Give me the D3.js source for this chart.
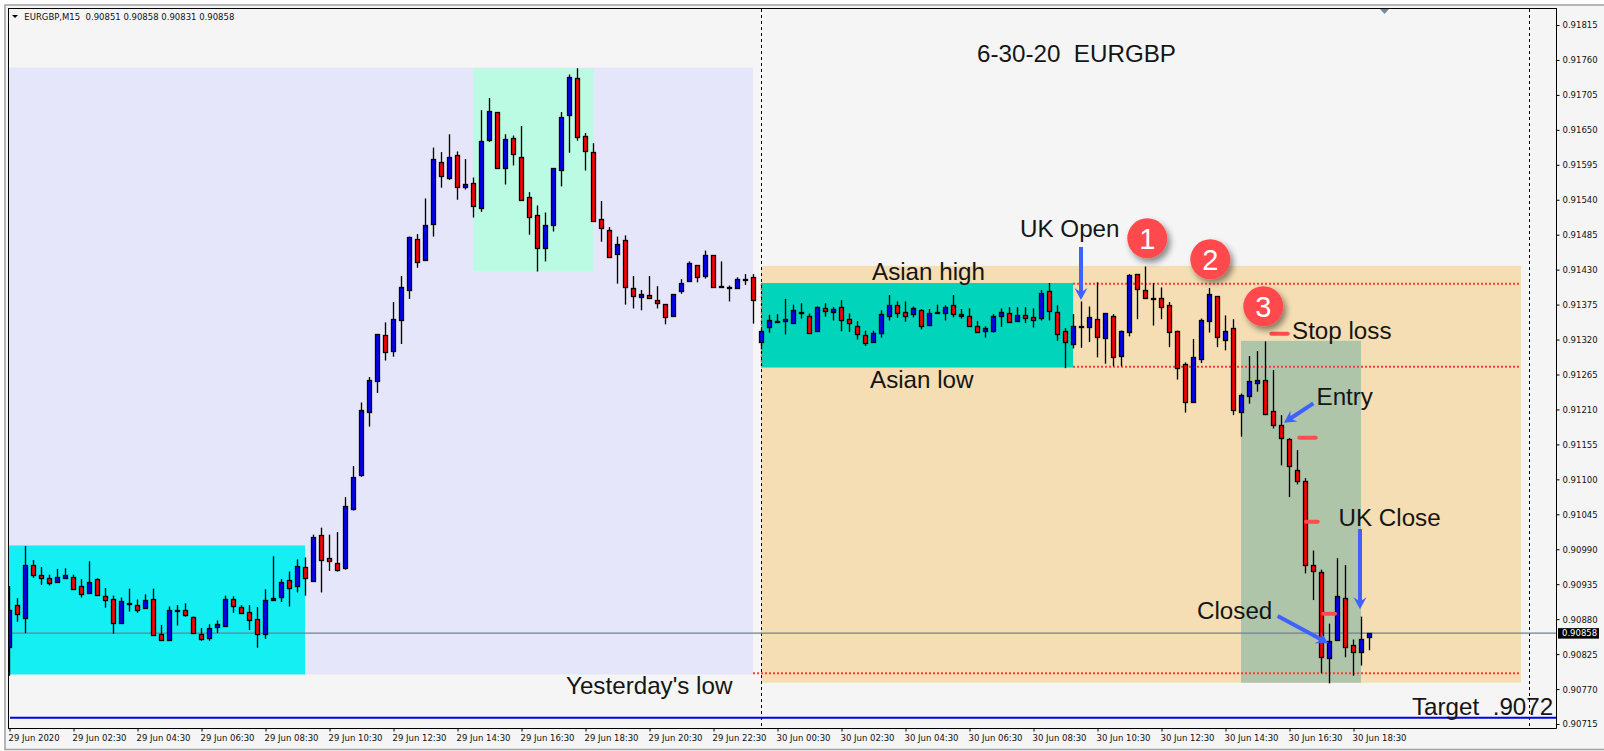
<!DOCTYPE html>
<html><head><meta charset="utf-8"><title>EURGBP M15</title>
<script src="https://cdn.jsdelivr.net/npm/d3@7/dist/d3.min.js"></script>
<style>html,body{margin:0;padding:0;background:#fff;overflow:hidden}svg{display:block}</style>
</head><body><div id="chart"></div>
<script>
// Prices in points (1 point = 0.00001)
const opens=[90837,90903,90881,90965,90950,90944,90939,90945,90947,90932,
90922,90943,90917,90911,90874,90906,90903,90898,90911,90856,
90848,90895,90894,90884,90856,90851,90868,90868,90911,90899,
90892,90881,90856,90911,90915,90941,90931,90962,90941,91012,
90976,90969,90960,91052,91106,91207,91254,91327,91303,91350,
91398,91479,91445,91501,91600,91575,91610,91560,91566,91527,
91634,91678,91590,91637,91608,91544,91516,91465,91501,91588,
91673,91731,91641,91615,91509,91493,91456,91476,91401,91387,
91390,91383,91376,91357,91396,91412,91437,91420,91453,91405,
91402,91402,91415,91418,91317,91339,91347,91350,91346,91363,
91357,91333,91369,91363,91372,91353,91342,91327,91317,91330,
91357,91375,91363,91360,91366,91342,91362,91361,91374,91357,
91357,91341,91334,91334,91358,91361,91349,91358,91355,91353,
91396,91363,91333,91313,91342,91339,91353,91322,91357,91294,
91331,91423,91398,91386,91385,91375,91334,91281,91221,91289,
91349,91388,91320,91338,91206,91231,91253,91257,91207,91185,
91163,91114,91097,90966,90954,90818,90847,90914,90840,90828,
90851];
const highs=[90932,90913,90995,90973,90962,90950,90959,90960,90950,90943,
90971,90944,90929,90917,90914,90928,90911,90919,90928,90871,
90900,90902,90905,90884,90866,90872,90878,90917,90916,90902,
90902,90899,90927,90979,90943,90955,90974,90977,91013,91024,
91013,91017,91072,91121,91221,91261,91328,91347,91379,91420,
91482,91486,91542,91622,91615,91643,91616,91604,91575,91681,
91700,91678,91643,91641,91656,91552,91531,91520,91590,91678,
91737,91747,91645,91629,91538,91497,91482,91484,91420,91398,
91420,91404,91376,91391,91415,91443,91437,91460,91453,91443,
91405,91418,91423,91423,91335,91359,91360,91384,91375,91377,
91361,91372,91377,91371,91382,91361,91349,91334,91334,91366,
91390,91380,91380,91372,91368,91368,91375,91374,91390,91368,
91369,91349,91341,91360,91369,91371,91371,91371,91369,91398,
91409,91374,91338,91360,91380,91372,91410,91361,91360,91334,
91423,91423,91435,91409,91402,91379,91334,91284,91321,91353,
91401,91388,91358,91352,91235,91294,91302,91317,91272,91201,
91165,91146,91102,90988,90958,90873,90976,90965,90848,90884,
90858];
const lows=[90791,90876,90858,90945,90934,90933,90939,90944,90928,90914,
90920,90918,90898,90857,90874,90892,90890,90898,90854,90846,
90848,90870,90884,90859,90846,90846,90858,90868,90890,90890,
90863,90835,90849,90909,90907,90900,90922,90917,90941,90922,
90956,90955,90958,91051,91104,91183,91236,91287,91293,91313,
91384,91433,91445,91482,91559,91571,91540,91556,91512,91521,
91631,91590,91564,91594,91541,91485,91427,91443,91490,91561,
91614,91633,91586,91506,91474,91451,91408,91375,91369,91366,
91384,91369,91344,91357,91392,91412,91410,91416,91402,91402,
91380,91402,91406,91345,91305,91331,91347,91328,91346,91353,
91331,91333,91356,91350,91333,91332,91320,91310,91317,91323,
91350,91354,91348,91355,91336,91341,91362,91350,91355,91353,
91342,91331,91323,91331,91340,91346,91349,91346,91339,91350,
91350,91318,91275,91306,91307,91316,91292,91282,91278,91278,
91325,91352,91386,91342,91352,91308,91257,91205,91221,91283,
91331,91308,91303,91201,91167,91219,91238,91201,91180,91122,
91072,91092,90952,90910,90795,90779,90847,90820,90791,90807,
90831];
const closes=[90895,90889,90965,90950,90945,90936,90947,90950,90928,90920,
90939,90918,90910,90873,90908,90906,90895,90910,90854,90846,
90895,90895,90886,90859,90848,90866,90872,90911,90900,90890,
90879,90857,90910,90914,90939,90928,90963,90944,91010,90973,
90971,90958,91058,91103,91209,91257,91328,91300,91353,91402,
91482,91443,91500,91604,91578,91608,91560,91564,91530,91632,
91679,91590,91635,91612,91541,91512,91464,91501,91590,91671,
91733,91638,91618,91507,91495,91451,91471,91402,91388,91391,
91386,91379,91355,91391,91409,91440,91418,91453,91402,91403,
91400,91416,91414,91382,91334,91350,91349,91353,91366,91361,
91331,91371,91364,91368,91352,91346,91330,91314,91331,91360,
91374,91363,91357,91369,91341,91361,91363,91371,91360,91360,
91342,91331,91338,91357,91364,91347,91358,91353,91350,91393,
91364,91328,91316,91342,91342,91355,91324,91361,91292,91334,
91421,91399,91386,91385,91371,91333,91276,91221,91292,91350,
91391,91324,91334,91209,91232,91254,91257,91204,91185,91165,
91121,91097,90965,90957,90821,90845,90916,90837,90829,90848,
90858];
const priceTicks=[91815,91760,91705,91650,91595,91540,91485,91430,91375,91320,91265,91210,91155,91100,91045,90990,90935,90880,90825,90770,90715];
const timeLabels=["29 Jun 2020","29 Jun 02:30","29 Jun 04:30","29 Jun 06:30","29 Jun 08:30","29 Jun 10:30","29 Jun 12:30","29 Jun 14:30","29 Jun 16:30","29 Jun 18:30","29 Jun 20:30","29 Jun 22:30","30 Jun 00:30","30 Jun 02:30","30 Jun 04:30","30 Jun 06:30","30 Jun 08:30","30 Jun 10:30","30 Jun 12:30","30 Jun 14:30","30 Jun 16:30","30 Jun 18:30"];
const barsPerLabel=8;
// Session boxes: bar index from/to, price top/bottom
const zones=[
 {i0:-0.06,i1:92.94,top:91748,bot:90793,fill:"#e6e6fa"},
 {i0:-0.06,i1:36.94,top:90996,bot:90793,fill:"#13eff3"},
 {i0:57.94,i1:72.98,top:91747,bot:91427,fill:"#bbfbe3"},
 {i0:93.94,i1:188.94,top:91436,bot:90780,fill:"#f5deb3"},
 {i0:93.94,i1:132.94,top:91409,bot:91276,fill:"#00d4bb"},
 {i0:153.94,i1:168.94,top:91318,bot:90780,fill:"#aec5a9"}
];
const levels=[{p:91408,i0:132.94,i1:188.94},{p:91277,i0:132.94,i1:188.94},{p:90795,i0:92.94,i1:188.94}];
const verticals=[94,190];
const lastPrice=90858, targetPrice=90725;
const headerText="EURGBP,M15  0.90851 0.90858 0.90831 0.90858";
const notes=[
 ["6-30-20  EURGBP",977,61.7],["UK Open",1020,236.5],["Asian high",872,280],["Asian low",870,388],
 ["Stop loss",1292,339],["Entry",1316.5,405],["UK Close",1338.5,525.7],["Closed",1197,619],
 ["Yesterday's low",566,694.3],["Target  .9072",1412,715]
];
const badges=[["1",1147.3,238.3],["2",1210.3,259.3],["3",1263.3,306.3]];
const dashes=[[1271.3,1287.7,333.7],[1299.3,1315.7,437.7],[1306,1317.7,521.7],[1323.3,1335,613.7]];
const arrows=[[1081,247,1081,300],[1313.3,403.3,1284,422.7],[1360,529,1360,609.3],[1277.7,616,1328.3,643.3]];

const W=1604,H=751;
const x=d3.scaleLinear().domain([0,190]).range([9.5,1529.5]);
const y=d3.scaleLinear().domain([90715,91815]).range([724,25]);
const svg=d3.select("#chart").append("svg").attr("width",W).attr("height",H);
const defs=svg.append("defs");
defs.append("clipPath").attr("id","plot").append("rect").attr("x",9).attr("y",9).attr("width",1547).attr("height",719);
const f=defs.append("filter").attr("id","shadow").attr("x","-50%").attr("y","-50%").attr("width","200%").attr("height","200%");
f.append("feDropShadow").attr("dx",3).attr("dy",4).attr("stdDeviation",3).attr("flood-color","#000").attr("flood-opacity",0.45);

svg.append("rect").attr("width",W).attr("height",H).attr("fill","#fdfdfd");
svg.append("rect").attr("x",5).attr("y",5).attr("width",W+10).attr("height",744.5).attr("fill","#f5f5f5").attr("stroke","#a0a0a0").attr("stroke-width",1.5);

const plot=svg.append("g").attr("clip-path","url(#plot)");
plot.selectAll("rect.zone").data(zones).join("rect").attr("class","zone")
 .attr("x",d=>x(d.i0)).attr("width",d=>x(d.i1)-x(d.i0))
 .attr("y",d=>y(d.top)).attr("height",d=>y(d.bot)-y(d.top)).attr("fill",d=>d.fill);
plot.selectAll("line.level").data(levels).join("line").attr("class","level")
 .attr("x1",d=>x(d.i0)).attr("x2",d=>x(d.i1)).attr("y1",d=>y(d.p)).attr("y2",d=>y(d.p))
 .attr("stroke","#ff3b3b").attr("stroke-width",2).attr("stroke-dasharray","2,2");
plot.append("line").attr("x1",x(94)).attr("x2",x(94)).attr("y1",y(91408)).attr("y2",y(91277))
 .attr("stroke","#ff3b3b").attr("stroke-width",1.5).attr("stroke-dasharray","2,2");
plot.selectAll("line.vert").data(verticals).join("line").attr("class","vert")
 .attr("x1",d=>x(d)).attr("x2",d=>x(d)).attr("y1",9).attr("y2",728)
 .attr("stroke","#000").attr("stroke-width",1).attr("stroke-dasharray","3,3").attr("shape-rendering","crispEdges");
plot.append("line").attr("x1",9).attr("x2",1556).attr("y1",y(lastPrice)).attr("y2",y(lastPrice))
 .attr("stroke","#708090").attr("stroke-width",1.2);
plot.append("line").attr("x1",10).attr("x2",1556).attr("y1",y(targetPrice)).attr("y2",y(targetPrice))
 .attr("stroke","#0000ee").attr("stroke-width",2);

const bars=d3.range(opens.length);
const crisp=v=>Math.round(v)+0.5;
const candles=plot.append("g");
candles.selectAll("line").data(bars).join("line")
 .attr("x1",i=>x(i)).attr("x2",i=>x(i)).attr("y1",i=>y(highs[i])).attr("y2",i=>y(lows[i]))
 .attr("stroke","#000").attr("stroke-width",1.35);
candles.selectAll("rect").data(bars).join("rect")
 .attr("x",i=>x(i)-2).attr("width",4)
 .attr("y",i=>crisp(y(Math.max(opens[i],closes[i]))))
 .attr("height",i=>Math.max(1,Math.round(Math.abs(y(opens[i])-y(closes[i])))))
 .attr("fill",i=>closes[i]>=opens[i]?"#0000ff":"#ff0000")
 .attr("stroke","#000").attr("stroke-width",1.3);

// Axes
const axisFont='"DejaVu Sans",sans-serif';
const axisSize=8.5;
const yAxis=d3.axisRight(y).tickValues(priceTicks).tickFormat(v=>"0."+v).tickSize(3).tickPadding(3);
const gy=svg.append("g").attr("transform","translate(1556.5,0)").call(yAxis);
gy.select(".domain").attr("d","M0,8.5V728.5").attr("stroke","#000");
gy.selectAll("text").attr("font-family",axisFont).attr("font-size",axisSize).attr("fill","#111").attr("dy","0.35em");
const xAxis=d3.axisBottom(x).tickValues(timeLabels.map((_,k)=>k*barsPerLabel)).tickFormat(v=>timeLabels[v/barsPerLabel]).tickSize(3);
const gx=svg.append("g").attr("transform","translate(0,728.5)").call(xAxis);
gx.select(".domain").attr("d","M8.5,0H1556.5").attr("stroke","#000");
gx.selectAll("text").attr("font-family",axisFont).attr("font-size",axisSize).attr("fill","#111").attr("text-anchor","start").attr("x",-1.5).attr("y",6).attr("dy","0.71em");
svg.append("line").attr("x1",8.5).attr("x2",8.5).attr("y1",8).attr("y2",729).attr("stroke","#000");
svg.append("line").attr("x1",8).attr("x2",1557).attr("y1",8.5).attr("y2",8.5).attr("stroke","#000");

// Last price tag
svg.append("rect").attr("x",1558).attr("y",y(lastPrice)-5).attr("width",41).attr("height",10.5).attr("fill","#000");
svg.append("text").attr("x",1562).attr("y",y(lastPrice)).attr("dy","0.35em").attr("font-family",axisFont).attr("font-size",axisSize).attr("fill","#fff").text("0."+lastPrice);

// Header
svg.append("path").attr("d","M12,15H18L15,18Z").attr("fill","#000");
svg.append("text").attr("x",24.3).attr("y",19.5).attr("font-family",axisFont).attr("font-size",axisSize).attr("fill","#111").style("white-space","pre").text(headerText);
svg.append("path").attr("d","M1380,9H1389L1384.5,14Z").attr("fill","#778899");

// Annotations
const ann=svg.append("g").attr("font-family",'"Liberation Sans",Arial,sans-serif');
ann.selectAll("text.note").data(notes).join("text").attr("class","note")
 .attr("x",d=>d[1]).attr("y",d=>d[2]).attr("font-size",24.2).attr("fill","#151515").style("white-space","pre").text(d=>d[0]);
ann.selectAll("line.dash").data(dashes).join("line").attr("class","dash")
 .attr("x1",d=>d[0]).attr("x2",d=>d[1]).attr("y1",d=>d[2]).attr("y2",d=>d[2])
 .attr("stroke","#ff4d4d").attr("stroke-width",4).attr("stroke-linecap","round");
const arrowPath=([a,b,c,d])=>{
 const L=Math.hypot(c-a,d-b),ux=(c-a)/L,uy=(d-b)/L,nx=-uy,ny=ux,hw=2,hl=12,hh=6.5,nt=9;
 const p=(t,s)=>[a+ux*t+nx*s,b+uy*t+ny*s];
 return "M"+[p(0,-hw),p(L-nt,-hw),p(L-hl,-hh),p(L,0),p(L-hl,hh),p(L-nt,hw),p(0,hw)].map(q=>q.join(",")).join("L")+"Z";
};
ann.selectAll("path.arrow").data(arrows).join("path").attr("class","arrow").attr("d",arrowPath).attr("fill","#4060ff");
const badge=ann.selectAll("g.badge").data(badges).join("g").attr("class","badge").attr("transform",d=>`translate(${d[1]},${d[2]})`);
badge.append("circle").attr("r",20).attr("fill","#ff4a4d").attr("filter","url(#shadow)");
badge.append("text").attr("text-anchor","middle").attr("dy","0.37em").attr("font-size",29).attr("fill","#fff").text(d=>d[0]);
</script></body></html>
